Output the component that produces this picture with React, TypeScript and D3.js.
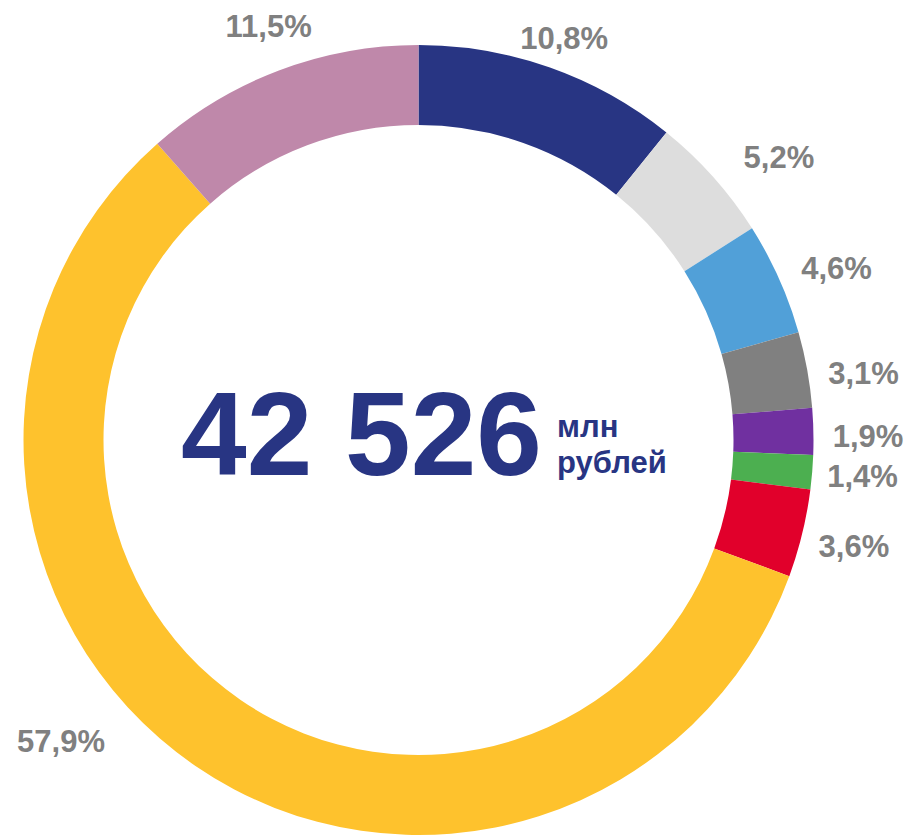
import React from "react";
import * as d3 from "d3";

// ---- data ----
const categories = ["A", "B", "C", "D", "E", "F", "G", "H", "I"];
const shares = [10.8, 5.2, 4.6, 3.1, 1.9, 1.4, 3.6, 57.9, 11.5];
const labels = ["10,8%", "5,2%", "4,6%", "3,1%", "1,9%", "1,4%", "3,6%", "57,9%", "11,5%"];
const colors = ["#283583", "#dddddd", "#51a0d8", "#808080", "#7030a0", "#4caf50", "#e1002b", "#fec22d", "#bf88aa"];
const totalValue = "42 526";
const unitLines = ["млн", "рублей"];

// ---- layout ----
const W = 911;
const H = 836;
const CX = 418.5;
const CY = 440;
const R_OUT = 395;
const R_IN = 315;
// manual label placement (polar: degrees clockwise from 12 o'clock, radius)
const labelPlacement = [
  { angleDeg: 19.9, r: 428 },
  { angleDeg: 51.8, r: 458.6 },
  { angleDeg: 67.6, r: 452.2 },
  { angleDeg: 81.4, r: 450.1 },
  { angleDeg: 89.5, r: 449.5 },
  { angleDeg: 94.6, r: 445.5 },
  { angleDeg: 103.7, r: 448.2 },
  { angleDeg: 229.9, r: 467.3 },
  { angleDeg: 340.1, r: 440.2 },
];

export default function App() {
  const pie = d3
    .pie<number>()
    .sort(null)
    .value((d) => d)
    .startAngle(0)
    .endAngle(2 * Math.PI);
  const arcs = pie(shares);
  const arc = d3.arc<d3.PieArcDatum<number>>().innerRadius(R_IN).outerRadius(R_OUT);

  const font = "'Liberation Sans', Arial, Helvetica, sans-serif";

  return (
    <svg
      width={W}
      height={H}
      viewBox={`0 0 ${W} ${H}`}
      style={{ position: "absolute", left: 0, top: 0, background: "#ffffff" }}
    >
      <g transform={`translate(${CX},${CY})`}>
        {arcs.map((a, i) => (
          <path key={categories[i]} d={arc(a) || ""} fill={colors[i]} />
        ))}
        {arcs.map((a, i) => {
          const p = labelPlacement[i];
          const ang = (p.angleDeg * Math.PI) / 180;
          const x = p.r * Math.sin(ang);
          const y = -p.r * Math.cos(ang);
          return (
            <text
              key={"l" + i}
              x={x}
              y={y}
              dy="0.36em"
              textAnchor="middle"
              fontFamily={font}
              fontWeight="bold"
              fontSize={31}
              fill="#808080"
            >
              {labels[i]}
            </text>
          );
        })}
      </g>
      <text
        x={542}
        y={475}
        textAnchor="end"
        fontFamily={font}
        fontWeight="bold"
        fontSize={118}
        fill="#283583"
      >
        {totalValue}
      </text>
      {unitLines.map((t, i) => (
        <text
          key={t}
          x={557}
          y={437 + i * 36}
          fontFamily={font}
          fontWeight="bold"
          fontSize={31}
          fill="#283583"
        >
          {t}
        </text>
      ))}
    </svg>
  );
}
